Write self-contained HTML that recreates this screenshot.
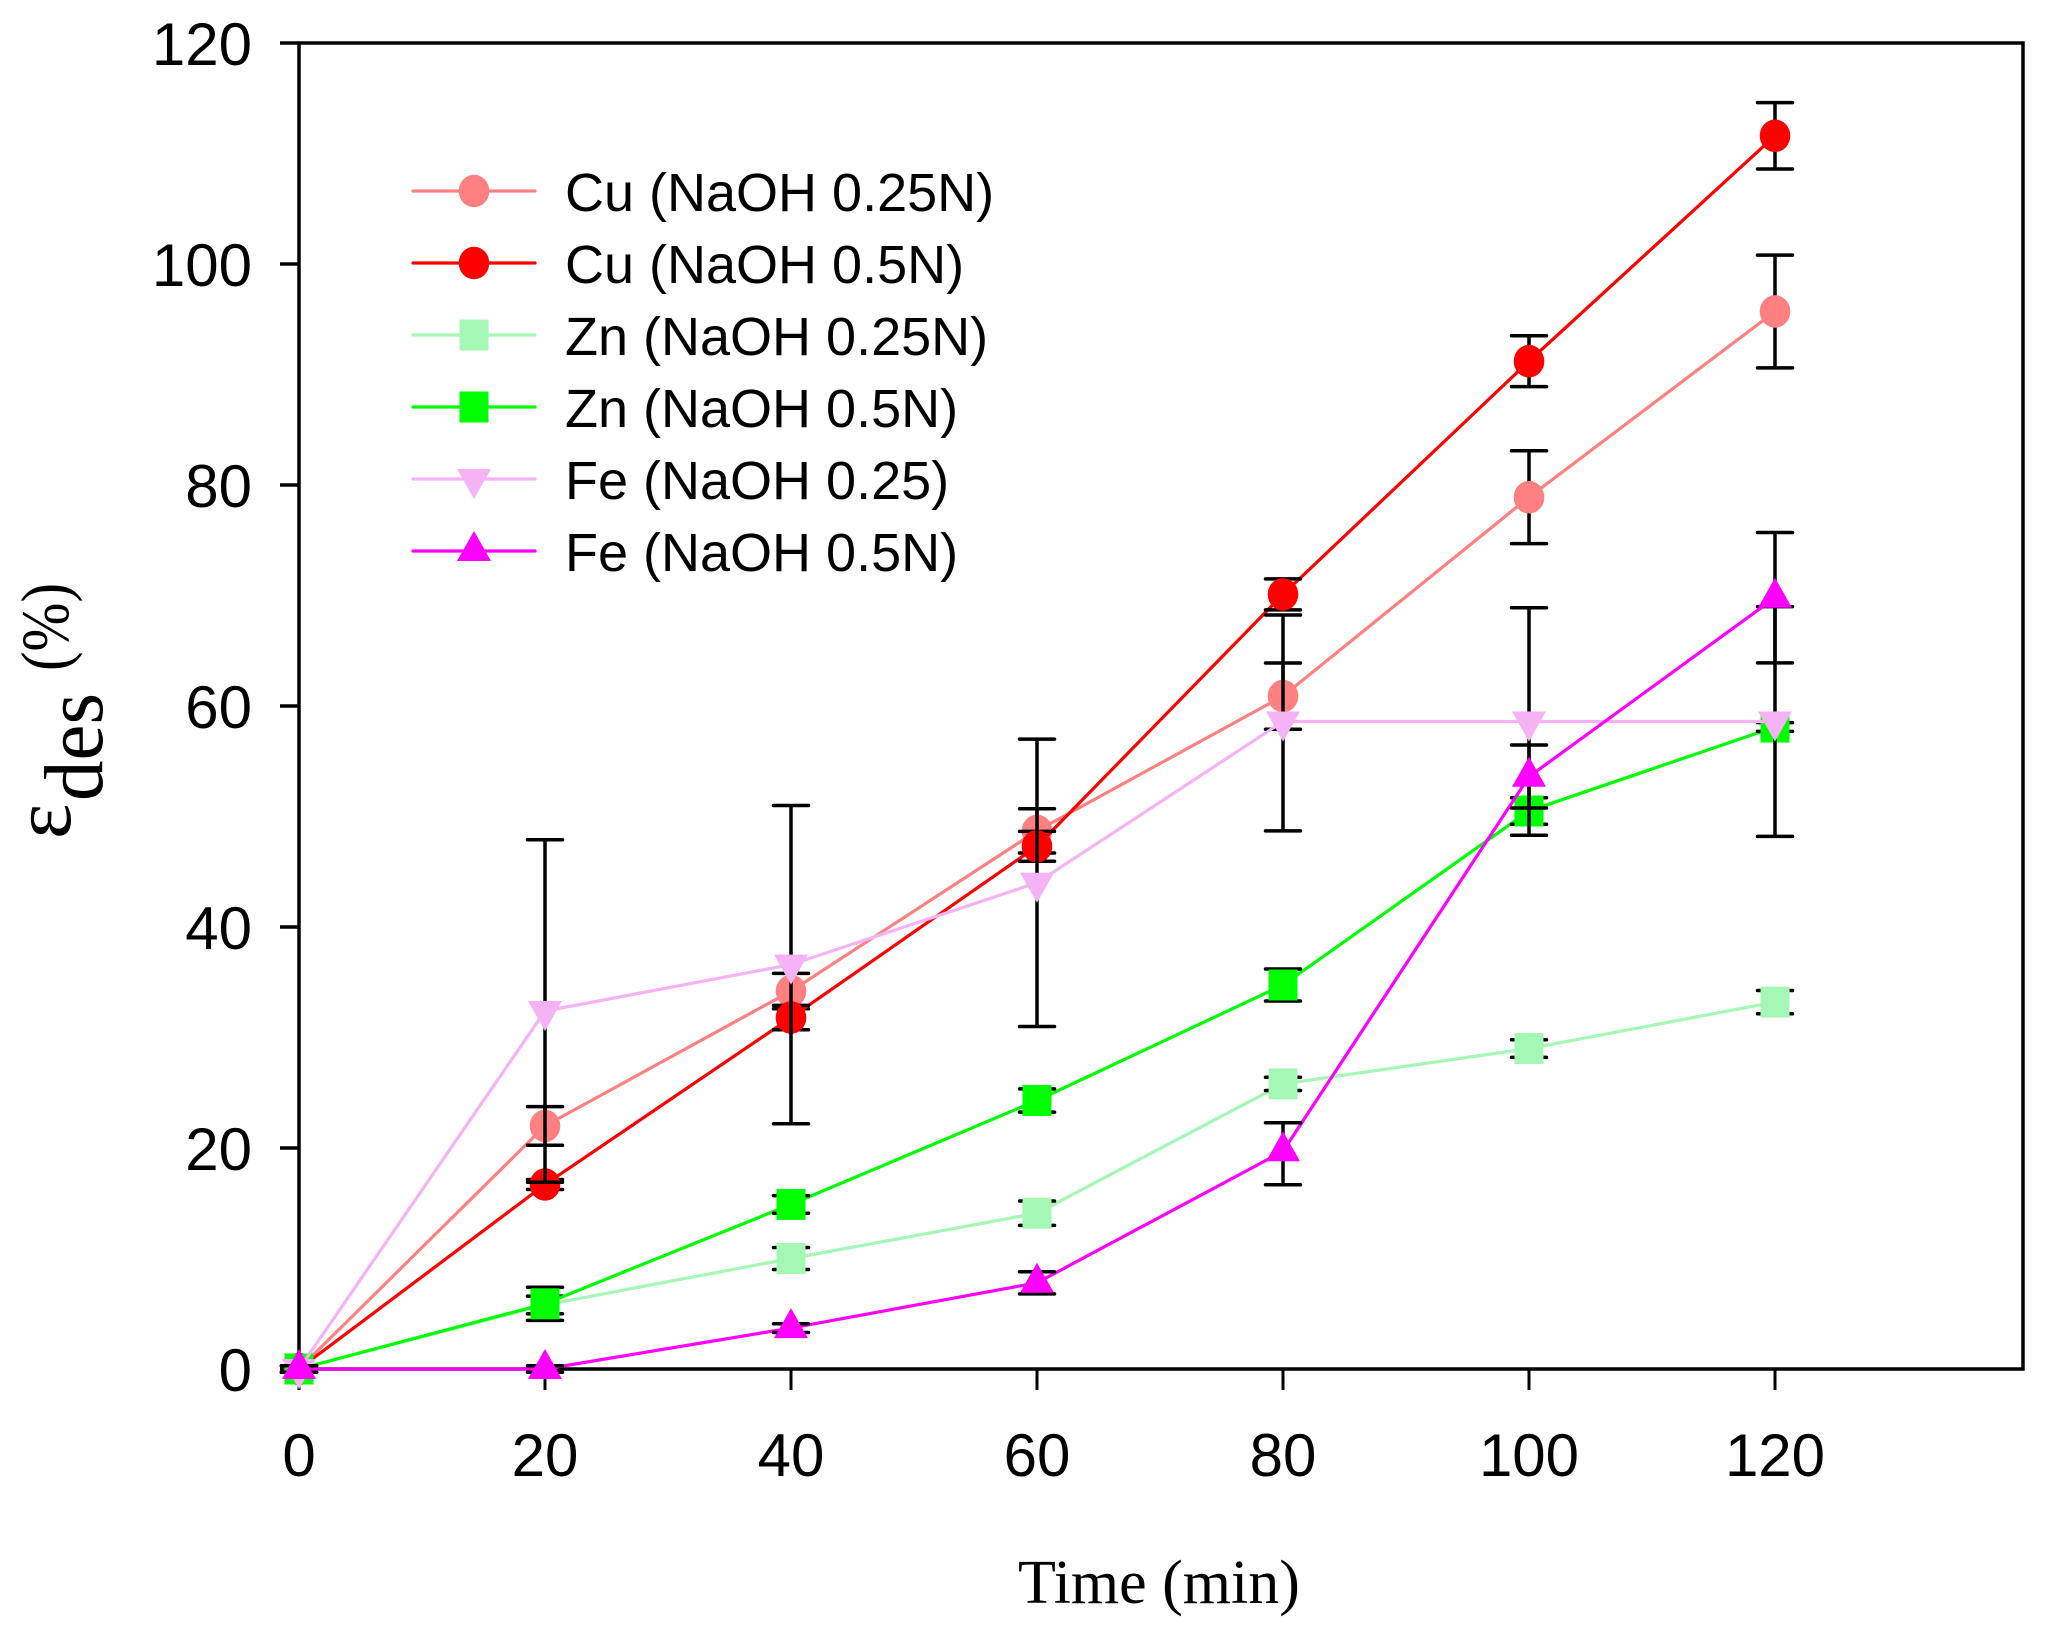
<!DOCTYPE html>
<html>
<head>
<meta charset="utf-8">
<style>
html,body{margin:0;padding:0;background:#fff;}
svg{display:block;}
.tk{font-family:"Liberation Sans",Arial,sans-serif;font-size:60px;fill:#000;}
.lg{font-family:"Liberation Sans",Arial,sans-serif;font-size:54px;fill:#000;}
.sr{font-family:"Liberation Serif","Times New Roman",serif;fill:#000;}
.eb{stroke:#000;stroke-width:3.5;fill:none;stroke-linecap:round;}
</style>
</head>
<body>
<svg width="2049" height="1632" viewBox="0 0 2049 1632" xmlns="http://www.w3.org/2000/svg">
<rect width="2049" height="1632" fill="#fff"/>

<!-- Frame -->
<rect x="299" y="43" width="1724" height="1326" fill="none" stroke="#000" stroke-width="3.5"/>

<!-- Y ticks -->
<g stroke="#000" stroke-width="3.5">
<line x1="280" y1="1369" x2="299" y2="1369"/>
<line x1="280" y1="1148" x2="299" y2="1148"/>
<line x1="280" y1="927" x2="299" y2="927"/>
<line x1="280" y1="706" x2="299" y2="706"/>
<line x1="280" y1="485" x2="299" y2="485"/>
<line x1="280" y1="264" x2="299" y2="264"/>
<line x1="280" y1="43" x2="299" y2="43"/>
</g>
<!-- X ticks -->
<g stroke="#000" stroke-width="3">
<line x1="299" y1="1369" x2="299" y2="1390"/>
<line x1="545" y1="1369" x2="545" y2="1390"/>
<line x1="791" y1="1369" x2="791" y2="1390"/>
<line x1="1037" y1="1369" x2="1037" y2="1390"/>
<line x1="1283" y1="1369" x2="1283" y2="1390"/>
<line x1="1529" y1="1369" x2="1529" y2="1390"/>
<line x1="1775" y1="1369" x2="1775" y2="1390"/>
</g>

<!-- Y tick labels -->
<g class="tk" text-anchor="end">
<text x="252" y="1391">0</text>
<text x="252" y="1170">20</text>
<text x="252" y="949">40</text>
<text x="252" y="728">60</text>
<text x="252" y="507">80</text>
<text x="252" y="286">100</text>
<text x="252" y="65">120</text>
</g>
<!-- X tick labels -->
<g class="tk" text-anchor="middle">
<text x="299" y="1476">0</text>
<text x="545" y="1476">20</text>
<text x="791" y="1476">40</text>
<text x="1037" y="1476">60</text>
<text x="1283" y="1476">80</text>
<text x="1529" y="1476">100</text>
<text x="1775" y="1476">120</text>
</g>

<!-- Axis titles -->
<text class="sr" x="1018" y="1603" font-size="62">Time (min)</text>
<text class="sr" font-size="84" transform="translate(70,839) rotate(-90)">ε</text>
<text class="sr" font-size="84" textLength="108" lengthAdjust="spacingAndGlyphs" transform="translate(102,801) rotate(-90)">des</text>
<text class="sr" font-size="68" textLength="88" lengthAdjust="spacingAndGlyphs" transform="translate(68,671) rotate(-90)">(%)</text>

<!-- Series: Cu 0.25N -->
<polyline fill="none" stroke="#FF8080" stroke-width="3.2" points="299,1369 545,1125.9 791,991.1 1037,830.9 1283,696.1 1529,497.2 1775,311.5"/>
<path class="eb" d="M299,1365.7V1372.3M281.5,1365.7H316.5M281.5,1372.3H316.5
M545,1106.6V1145.2M527.5,1106.6H562.5M527.5,1145.2H562.5
M791,973.4V1008.8M773.5,973.4H808.5M773.5,1008.8H808.5
M1037,808.8V853M1019.5,808.8H1054.5M1019.5,853H1054.5
M1283,662.95V729.25M1265.5,662.95H1300.5M1265.5,729.25H1300.5
M1529,450.8V543.6M1511.5,450.8H1546.5M1511.5,543.6H1546.5
M1775,255.1V367.9M1757.5,255.1H1792.5M1757.5,367.9H1792.5"/>
<g fill="#FF8080">
<ellipse cx="299" cy="1369" rx="15.3" ry="16.3"/>
<ellipse cx="545" cy="1125.9" rx="15.3" ry="16.3"/>
<ellipse cx="791" cy="991.1" rx="15.3" ry="16.3"/>
<ellipse cx="1037" cy="830.9" rx="15.3" ry="16.3"/>
<ellipse cx="1283" cy="696.1" rx="15.3" ry="16.3"/>
<ellipse cx="1529" cy="497.2" rx="15.3" ry="16.3"/>
<ellipse cx="1775" cy="311.5" rx="15.3" ry="16.3"/>
</g>

<!-- Series: Cu 0.5N -->
<polyline fill="none" stroke="#FF0000" stroke-width="3.2" points="299,1369 545,1184.5 791,1017.6 1037,846.3 1283,594.4 1529,361.2 1775,135.8"/>
<path class="eb" d="M299,1365.7V1372.3M281.5,1365.7H316.5M281.5,1372.3H316.5
M545,1179.5V1189.5M527.5,1179.5H562.5M527.5,1189.5H562.5
M791,1005.4V1029.8M773.5,1005.4H808.5M773.5,1029.8H808.5
M1037,831.4V861.2M1019.5,831.4H1054.5M1019.5,861.2H1054.5
M1283,578.9V609.9M1265.5,578.9H1300.5M1265.5,609.9H1300.5
M1529,335.8V386.6M1511.5,335.8H1546.5M1511.5,386.6H1546.5
M1775,102.65V168.95M1757.5,102.65H1792.5M1757.5,168.95H1792.5"/>
<g fill="#FF0000">
<ellipse cx="299" cy="1369" rx="15.3" ry="16.3"/>
<ellipse cx="545" cy="1184.5" rx="15.3" ry="16.3"/>
<ellipse cx="791" cy="1017.6" rx="15.3" ry="16.3"/>
<ellipse cx="1037" cy="846.3" rx="15.3" ry="16.3"/>
<ellipse cx="1283" cy="594.4" rx="15.3" ry="16.3"/>
<ellipse cx="1529" cy="361.2" rx="15.3" ry="16.3"/>
<ellipse cx="1775" cy="135.8" rx="15.3" ry="16.3"/>
</g>

<!-- Series: Zn 0.25N -->
<polyline fill="none" stroke="#A4F7B4" stroke-width="3.2" points="299,1369 545,1304.9 791,1258.5 1037,1213.2 1283,1083.9 1529,1048.55 1775,1002.1"/>
<path class="eb" d="M299,1365.7V1372.3M281.5,1365.7H316.5M281.5,1372.3H316.5
M545,1296.1V1313.7M527.5,1296.1H562.5M527.5,1313.7H562.5
M791,1247.45V1269.55M773.5,1247.45H808.5M773.5,1269.55H808.5
M1037,1201V1225.4M1019.5,1201H1054.5M1019.5,1225.4H1054.5
M1283,1077.3V1090.5M1265.5,1077.3H1300.5M1265.5,1090.5H1300.5
M1529,1039.75V1057.35M1511.5,1039.75H1546.5M1511.5,1057.35H1546.5
M1775,990.5V1013.7M1757.5,990.5H1792.5M1757.5,1013.7H1792.5"/>
<g fill="#A4F7B4">
<rect x="284.5" y="1353.5" width="29" height="31"/>
<rect x="530.5" y="1289.4" width="29" height="31"/>
<rect x="776.5" y="1243" width="29" height="31"/>
<rect x="1022.5" y="1197.7" width="29" height="31"/>
<rect x="1268.5" y="1068.4" width="29" height="31"/>
<rect x="1514.5" y="1033.05" width="29" height="31"/>
<rect x="1760.5" y="986.6" width="29" height="31"/>
</g>

<!-- Series: Zn 0.5N -->
<polyline fill="none" stroke="#00FF00" stroke-width="3.2" points="299,1369 545,1303.8 791,1204.4 1037,1100.5 1283,985 1529,811 1775,727"/>
<path class="eb" d="M299,1365.7V1372.3M281.5,1365.7H316.5M281.5,1372.3H316.5
M545,1287.2V1320.4M527.5,1287.2H562.5M527.5,1320.4H562.5
M791,1195.6V1213.2M773.5,1195.6H808.5M773.5,1213.2H808.5
M1037,1088.9V1112.1M1019.5,1088.9H1054.5M1019.5,1112.1H1054.5
M1283,969V1001M1265.5,969H1300.5M1265.5,1001H1300.5
M1529,797.7V824.3M1511.5,797.7H1546.5M1511.5,824.3H1546.5
M1775,722.6V731.4M1757.5,722.6H1792.5M1757.5,731.4H1792.5"/>
<g fill="#00FF00">
<rect x="284.5" y="1353.5" width="29" height="31"/>
<rect x="530.5" y="1288.3" width="29" height="31"/>
<rect x="776.5" y="1188.9" width="29" height="31"/>
<rect x="1022.5" y="1085" width="29" height="31"/>
<rect x="1268.5" y="969.5" width="29" height="31"/>
<rect x="1514.5" y="795.5" width="29" height="31"/>
<rect x="1760.5" y="711.5" width="29" height="31"/>
</g>

<!-- Series: Fe 0.25 -->
<polyline fill="none" stroke="#F5B3F5" stroke-width="3.2" points="299,1369 545,1011 791,964.6 1037,882.8 1283,721.5 1529,721.5 1775,721.5"/>
<path class="eb" d="M299,1365.7V1372.3M281.5,1365.7H316.5M281.5,1372.3H316.5
M545,839.7V1182.3M527.5,839.7H562.5M527.5,1182.3H562.5
M791,805.5V1123.7M773.5,805.5H808.5M773.5,1123.7H808.5
M1037,739.15V1026.45M1019.5,739.15H1054.5M1019.5,1026.45H1054.5
M1283,615V830.9M1265.5,615H1300.5M1265.5,830.9H1300.5
M1529,607.7V835.3M1511.5,607.7H1546.5M1511.5,835.3H1546.5
M1775,606.6V836.4M1757.5,606.6H1792.5M1757.5,836.4H1792.5"/>
<g fill="#F5B3F5">
<polygon points="282,1359 316,1359 299,1389"/>
<polygon points="528,1001 562,1001 545,1031"/>
<polygon points="774,954.6 808,954.6 791,984.6"/>
<polygon points="1020,872.8 1054,872.8 1037,902.8"/>
<polygon points="1266,711.5 1300,711.5 1283,741.5"/>
<polygon points="1512,711.5 1546,711.5 1529,741.5"/>
<polygon points="1758,711.5 1792,711.5 1775,741.5"/>
</g>

<!-- Series: Fe 0.5N -->
<polyline fill="none" stroke="#FF00FF" stroke-width="3.2" points="299,1369 545,1369 791,1328.1 1037,1282.8 1283,1151.3 1529,776.7 1775,597.7"/>
<path class="eb" d="M299,1365.7V1372.3M281.5,1365.7H316.5M281.5,1372.3H316.5
M545,1365.7V1372.3M527.5,1365.7H562.5M527.5,1372.3H562.5
M791,1323.7V1332.5M773.5,1323.7H808.5M773.5,1332.5H808.5
M1037,1271.75V1293.85M1019.5,1271.75H1054.5M1019.5,1293.85H1054.5
M1283,1122.7V1184.8M1265.5,1122.7H1300.5M1265.5,1184.8H1300.5
M1529,745V808M1511.5,745H1546.5M1511.5,808H1546.5
M1775,532.5V662.9M1757.5,532.5H1792.5M1757.5,662.9H1792.5"/>
<g fill="#FF00FF">
<polygon points="299,1349 316,1379 282,1379"/>
<polygon points="545,1349 562,1379 528,1379"/>
<polygon points="791,1308.1 808,1338.1 774,1338.1"/>
<polygon points="1037,1262.8 1054,1292.8 1020,1292.8"/>
<polygon points="1283,1131.3 1300,1161.3 1266,1161.3"/>
<polygon points="1529,756.7 1546,786.7 1512,786.7"/>
<polygon points="1775,577.7 1792,607.7 1758,607.7"/>
</g>

<!-- Legend -->
<g stroke-width="3.2" stroke-linecap="round">
<line x1="413" y1="191" x2="535" y2="191" stroke="#FF8080"/>
<line x1="413" y1="263" x2="535" y2="263" stroke="#FF0000"/>
<line x1="413" y1="335" x2="535" y2="335" stroke="#A4F7B4"/>
<line x1="413" y1="407" x2="535" y2="407" stroke="#00FF00"/>
<line x1="413" y1="479" x2="535" y2="479" stroke="#F5B3F5"/>
<line x1="413" y1="551" x2="535" y2="551" stroke="#FF00FF"/>
</g>
<ellipse cx="474" cy="191" rx="15.3" ry="16.3" fill="#FF8080"/>
<ellipse cx="474" cy="263" rx="15.3" ry="16.3" fill="#FF0000"/>
<rect x="459.5" y="319.5" width="29" height="31" fill="#A4F7B4"/>
<rect x="459.5" y="391.5" width="29" height="31" fill="#00FF00"/>
<polygon points="457,469 491,469 474,499" fill="#F5B3F5"/>
<polygon points="474,531 491,561 457,561" fill="#FF00FF"/>
<g class="lg">
<text x="565" y="211">Cu (NaOH 0.25N)</text>
<text x="565" y="283">Cu (NaOH 0.5N)</text>
<text x="565" y="355">Zn (NaOH 0.25N)</text>
<text x="565" y="427">Zn (NaOH 0.5N)</text>
<text x="565" y="499">Fe (NaOH 0.25)</text>
<text x="565" y="571">Fe (NaOH 0.5N)</text>
</g>
</svg>
</body>
</html>
